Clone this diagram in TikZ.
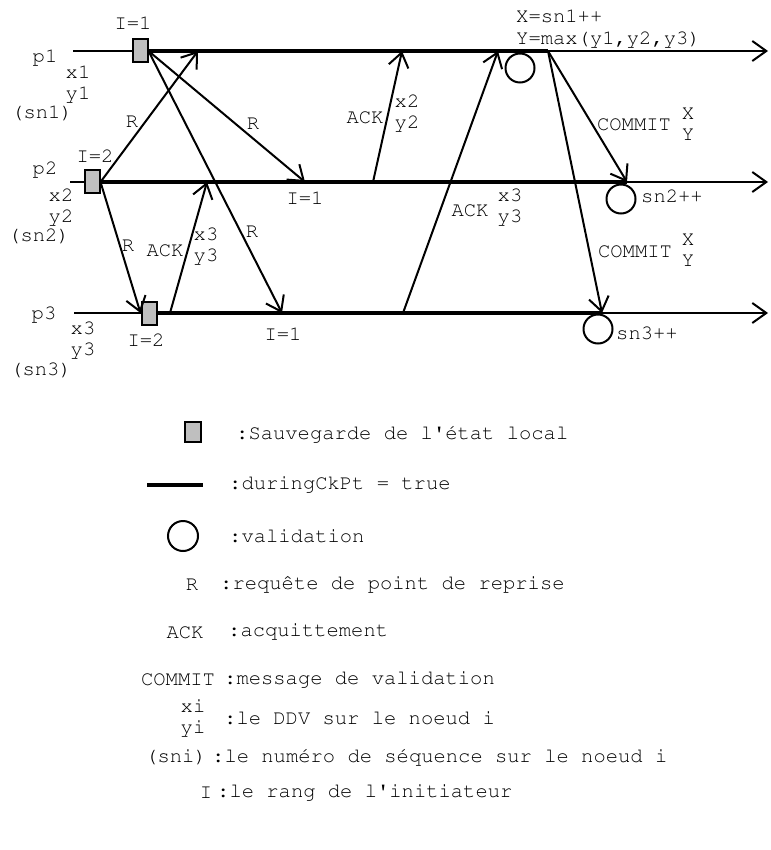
\documentclass[tikz,border=0pt]{standalone}
\usepackage[T1]{fontenc}
\usepackage{textcomp}
\renewcommand{\familydefault}{pcr}
\usetikzlibrary{arrows.meta}

\begin{document}
\begin{tikzpicture}[x=1pt,y=-1pt,
    font=\fontsize{20.5}{21}\selectfont,
    >={Straight Barb[length=14pt,width=20pt]},
    every node/.style={inner sep=0pt,align=center},
    tl/.style={line width=2pt},
    during/.style={line width=4.5pt},
    msg/.style={->,line width=2pt},
    ckpt/.style={draw,line width=2pt,fill=gray!50,minimum width=15pt,minimum height=23pt},
    valid/.style={draw,circle,line width=2pt,minimum size=29pt}]
    \useasboundingbox (0,0) rectangle (770,850);

    \node[ckpt] (b1) at (140,51) {};
    \node[ckpt] (b2) at (92,182) {};
    \node[ckpt] (b3) at (149,313) {};
    \coordinate (p1s) at (73,51);
    \coordinate (p2s) at (70,182);
    \coordinate (p3s) at (74,313);
    \coordinate (p1c) at (548,51);
    \coordinate (p2c) at (627,182);
    \coordinate (p3c) at (602,313);
    \coordinate (p1e) at (768,51);
    \coordinate (p2e) at (768,182);
    \coordinate (p3e) at (768,313);
    \draw[tl] (p1s)--(b1.west);
    \draw[tl] (p2s)--(b2.west);
    \draw[tl] (p3s)--(b3.west);
    \draw[during] (b1.east)--(p1c);
    \draw[during] (b2.east)--(p2c);
    \draw[during] (b3.east)--(p3c);
    \draw[tl,->] (p1c)--(p1e);
    \draw[tl,->] (p2c)--(p2e);
    \draw[tl,->] (p3c)--(p3e);

    \coordinate (r12) at (198,51);
    \coordinate (r21) at (305,182);
    \coordinate (r31) at (282,313);
    \coordinate (a3s) at (170,313);
    \coordinate (a3e) at (207,182);
    \coordinate (a2s) at (373,182);
    \coordinate (a2e) at (402,51);
    \coordinate (a4s) at (403,313);
    \coordinate (a4e) at (498,51);
    \draw[msg] (b1.east)--(r21);
    \draw[msg] (b1.east)--(r31);
    \draw[msg] (b2.east)--(r12);
    \draw[msg] (b2.east)--(b3.west);
    \draw[msg] (a3s)--(a3e);
    \draw[msg] (a2s)--(a2e);
    \draw[msg] (a4s)--(a4e);
    \draw[msg] (p1c)--(p2c);
    \draw[msg] (p1c)--(p3c);

    \node[valid] (c1) at (520,68) {};
    \node[valid] (c2) at (621,199) {};
    \node[valid] (c3) at (598,329) {};

    \node (i1) at (133,23) {I=1};
    \node (n1) at (45,58) {p1};
    \node (v1) at (78,84) {x1\\y1};
    \node (s1) at (42,113) {(sn1)};
    \node (i2) at (95,156) {I=2};
    \node (n2) at (45,170) {p2};
    \node (v2) at (61,207) {x2\\y2};
    \node (s2) at (39,236) {(sn2)};
    \node (n3) at (44,315) {p3};
    \node (v3) at (83,340) {x3\\y3};
    \node (s3) at (41,370) {(sn3)};
    \node (i3) at (146,340) {I=2};
    \node (i4) at (305,198) {I=1};
    \node (i5) at (283,334) {I=1};
    \node[anchor=west] (xs) at (516,16) {X=sn1++};
    \node[anchor=west] (ym) at (516,40) {Y=max(y1,y2,y3)};
    \node[anchor=west] (k2) at (641,196) {sn2++};
    \node[anchor=west] (k3) at (616,333) {sn3++};

    \node (ra) at (132,122) {R};
    \node (rb) at (253,124) {R};
    \node (rc) at (252,232) {R};
    \node (rd) at (128,246) {R};
    \node (aa) at (165,251) {ACK};
    \node (va) at (206,246) {x3\\y3};
    \node (ab) at (365,118) {ACK};
    \node (vb) at (407,113) {x2\\y2};
    \node (ac) at (470,211) {ACK};
    \node (vc) at (510,207) {x3\\y3};
    \node (ca) at (634,125) {COMMIT};
    \node (xa) at (688,124) {X\\Y};
    \node (cb) at (635,252) {COMMIT};
    \node (xb) at (688,250) {X\\Y};

    \node[ckpt,minimum width=16pt,minimum height=20pt] (lb) at (193,432) {};
    \coordinate (la) at (147,485);
    \coordinate (lz) at (203,485);
    \draw[during] (la)--(lz);
    \node[valid,minimum size=30pt] (lc) at (183,536) {};
    \node (lr) at (192,585) {R};
    \node (lk) at (185,633) {ACK};
    \node (lm) at (178,680) {COMMIT};
    \node (lv) at (193,718) {xi\\yi};
    \node (ls) at (176,757) {(sni)};
    \node (li) at (206,793) {I};
    \node[anchor=west] (ta) at (236,434) {:Sauvegarde de l\textquotesingle\'etat local};
    \node[anchor=west] (tb) at (229,485) {:duringCkPt = true};
    \node[anchor=west] (tc) at (229,536) {:validation};
    \node[anchor=west] (td) at (220,585) {:requ\^ete de point de reprise};
    \node[anchor=west] (te) at (228,632) {:acquittement};
    \node[anchor=west] (tf) at (224,680) {:message de validation};
    \node[anchor=west] (tg) at (224,718) {:le DDV sur le noeud i};
    \node[anchor=west] (th) at (212,757) {:le num\'ero de s\'equence sur le noeud i};
    \node[anchor=west] (ti) at (217,793) {:le rang de l\textquotesingle initiateur};

\end{tikzpicture}
\end{document}
